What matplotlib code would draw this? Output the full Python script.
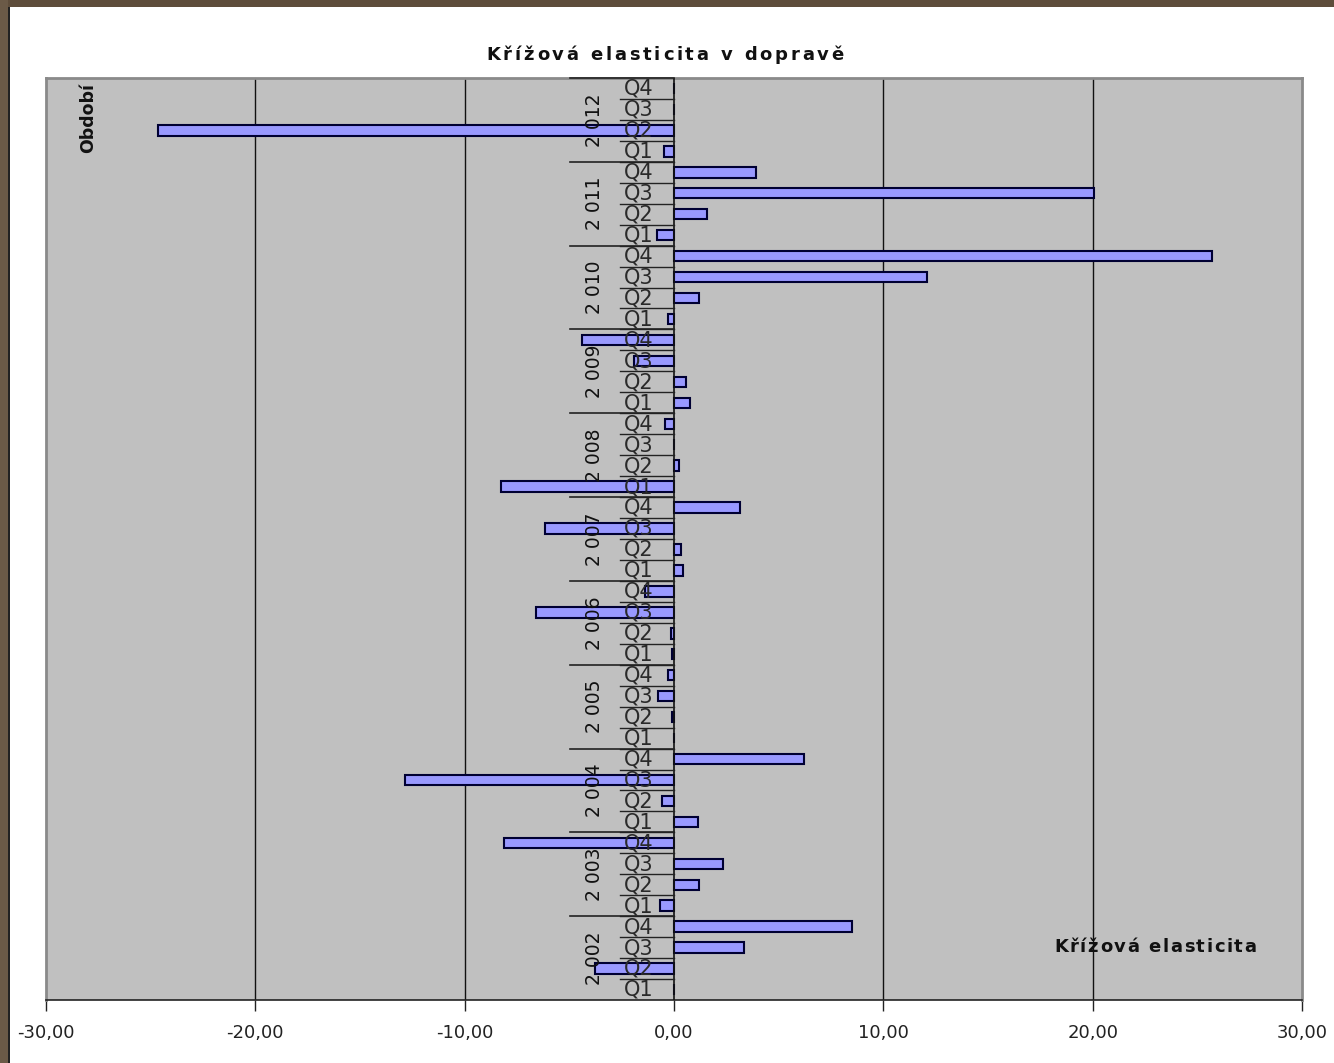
import matplotlib
matplotlib.use("Agg")
import matplotlib.pyplot as plt
from matplotlib.patches import Rectangle
from matplotlib.ticker import FuncFormatter

years = list(range(2002, 2013))
quarters = ["Q1", "Q2", "Q3", "Q4"]

# cross elasticity per quarter, 2002 Q1 .. 2012 Q4
elasticity = [
    0.00, -3.77, 3.34, 8.50,      # 2002
    -0.67, 1.19, 2.34, -8.12,     # 2003
    1.15, -0.57, -12.85, 6.21,    # 2004
    0.00, -0.10, -0.78, -0.30,    # 2005
    -0.10, -0.14, -6.60, -1.39,   # 2006
    0.43, 0.33, -6.16, 3.15,      # 2007
    -8.27, 0.24, 0.00, -0.43,     # 2008
    0.76, 0.57, -1.90, -4.40,     # 2009
    -0.30, 1.19, 12.09, 25.70,    # 2010
    -0.80, 1.58, 20.07, 3.92,     # 2011
    -0.50, -24.65, 0.00, 0.00,    # 2012
]

FONT = "DejaVu Sans"
BAR = "#9999ff"
EDGE = "#000033"
PLOT_BG = "#c0c0c0"
W, H = 1334, 1063

fig = plt.figure(figsize=(W / 100, H / 100), dpi=100)
fig.patch.set_facecolor("white")
renderer = fig.canvas.get_renderer()


def spaced_text(x_px, y_px, s, gap, ha="center", **kw):
    """Draw s letter by letter with extra spacing (pixel coords from top-left)."""
    widths = []
    for ch in s:
        t = fig.text(0, 0, ch, **kw)
        widths.append(t.get_window_extent(renderer).width if ch != " " else None)
        t.remove()
    sp = fig.text(0, 0, "a a", **kw)
    nosp = fig.text(0, 0, "aa", **kw)
    space_w = sp.get_window_extent(renderer).width - nosp.get_window_extent(renderer).width
    sp.remove(); nosp.remove()
    widths = [w if w is not None else space_w for w in widths]
    total = sum(widths) + gap * (len(s) - 1)
    x = x_px - total / 2 if ha == "center" else x_px - total
    for ch, w in zip(s, widths):
        if ch != " ":
            fig.text(x / W, 1 - y_px / H, ch, ha="left", va="center", **kw)
        x += w + gap


# dark frame round the sheet (top and left edges)
fig.add_artist(Rectangle((0, 1 - 7 / H), 1, 7 / H, transform=fig.transFigure,
                         facecolor="#5e4d3b", edgecolor="none", zorder=0))
fig.add_artist(Rectangle((0, 0), 8 / W, 1, transform=fig.transFigure,
                         facecolor="#6b5a47", edgecolor="none", zorder=0))
fig.add_artist(Rectangle((8 / W, 0), 2 / W, 1 - 7 / H, transform=fig.transFigure,
                         facecolor="#222222", edgecolor="none", zorder=0))

ax = fig.add_axes([46 / W, 63 / H, 1256 / W, 922 / H])
ax.set_facecolor(PLOT_BG)

y = list(range(len(elasticity)))
ax.barh(y, elasticity, height=0.5, color=BAR, edgecolor=EDGE, linewidth=1.5, zorder=3)

ax.set_xlim(-30, 30)
ax.set_ylim(-0.5, len(elasticity) - 0.5)
ax.set_xticks(range(-30, 31, 10))
ax.xaxis.set_major_formatter(FuncFormatter(lambda v, p: f"{v:.2f}".replace(".", ",")))
ax.tick_params(axis="x", direction="out", length=8, width=1, color="#222222",
               labelsize=13, pad=9, labelcolor="#222222")
for lab in ax.get_xticklabels():
    lab.set_family(FONT)
ax.set_yticks([])

for x in (-20, -10, 10, 20):
    ax.axvline(x, color="#111111", lw=1, zorder=1)
ax.axvline(0, color="#111111", lw=1.2, zorder=4)

for side in ("top", "right", "left"):
    ax.spines[side].set_color("#8a8a8a")
    ax.spines[side].set_linewidth(2)
ax.spines["bottom"].set_color("#222222")
ax.spines["bottom"].set_linewidth(1.2)

# multi-level category axis drawn at x = 0, on top of the bars
q_left, y_left = -2.6, -4.97
for i in range(len(elasticity)):
    ax.text(-2.4, i - 0.02, quarters[i % 4], ha="left", va="center", fontsize=15,
            family=FONT, color="#2a2a2a", zorder=5)
    if i < len(elasticity) - 1:
        ax.plot([q_left, 0], [i + 0.5, i + 0.5], color="#222222", lw=1, zorder=5)
for k, yr in enumerate(years):
    s = str(yr)
    ax.text(-3.78, 4 * k + 1.5, s[0] + " " + s[1:], ha="center", va="center",
            rotation=90, fontsize=13.5, family=FONT, color="#111111", zorder=5)
    top = 4 * k + 3.5
    ax.plot([y_left, 0], [top, top], color="#222222", lw=1.2, zorder=5, clip_on=False)

spaced_text(665, 55, "Křížová elasticita v dopravě", 2.8,
            fontsize=13, fontweight="bold", family=FONT, color="#111111")
fig.text(88 / W, 1 - 118 / H, "Období", ha="center", va="center", rotation=90,
         fontsize=12.5, fontweight="bold", family=FONT, color="#111111")
spaced_text(1256, 947, "Křížová elasticita", 1.6, ha="right",
            fontsize=13, fontweight="bold", family=FONT, color="#111111")

fig.savefig("out.png", dpi=100, facecolor="white")
